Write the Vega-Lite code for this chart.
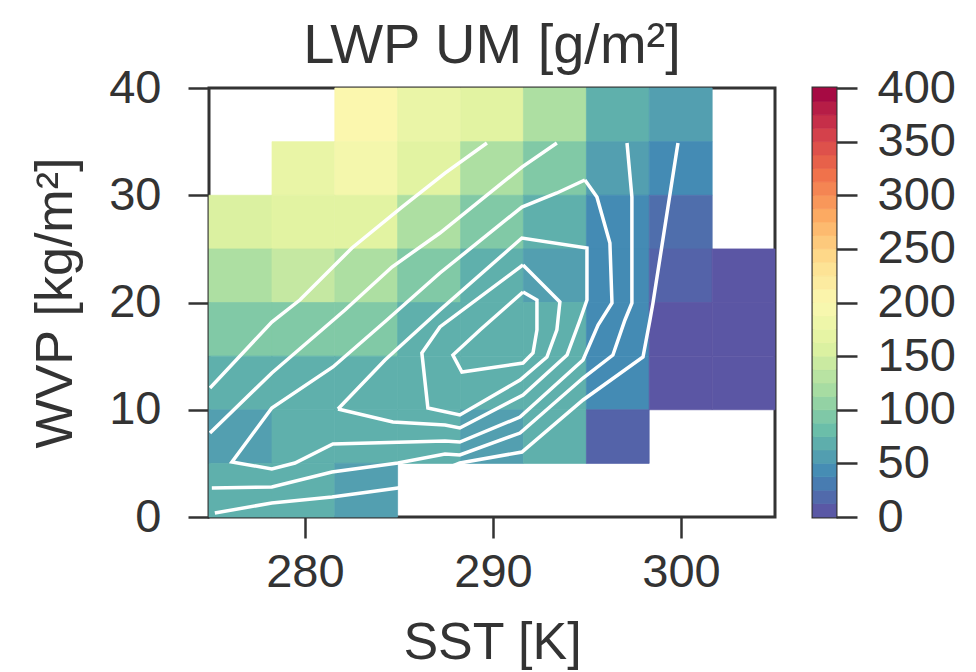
{
  "$schema": "https://vega.github.io/schema/vega-lite/v6.json",
  "background": "white",
  "padding": {"left": 28, "top": 16, "right": 5, "bottom": 5},
  "config": {
    "font": "Liberation Sans",
    "view": {"stroke": "#333333", "strokeWidth": 3},
    "axis": {
      "labelFont": "Liberation Sans", "labelFontSize": 47, "labelColor": "#333333",
      "titleFont": "Liberation Sans", "titleFontSize": 52, "titleColor": "#333333", "titleFontWeight": "normal",
      "tickColor": "#333333", "tickWidth": 2.5, "tickSize": 21, "domain": false, "grid": false
    },
    "title": {"font": "Liberation Sans", "fontSize": 56, "fontWeight": "normal", "color": "#333333"},
    "concat": {"spacing": 34}
  },
  "datasets": {
    "cells": [
      {"x0": 281.59, "x1": 284.93, "y0": 35, "y1": 40, "v": 202},
      {"x0": 284.93, "x1": 288.28, "y0": 35, "y1": 40, "v": 175},
      {"x0": 288.28, "x1": 291.62, "y0": 35, "y1": 40, "v": 163},
      {"x0": 291.62, "x1": 294.97, "y0": 35, "y1": 40, "v": 123},
      {"x0": 294.97, "x1": 298.31, "y0": 35, "y1": 40, "v": 70},
      {"x0": 298.31, "x1": 301.66, "y0": 35, "y1": 40, "v": 57},
      {"x0": 278.25, "x1": 281.59, "y0": 30, "y1": 35, "v": 173},
      {"x0": 281.59, "x1": 284.93, "y0": 30, "y1": 35, "v": 190},
      {"x0": 284.93, "x1": 288.28, "y0": 30, "y1": 35, "v": 163},
      {"x0": 288.28, "x1": 291.62, "y0": 30, "y1": 35, "v": 123},
      {"x0": 291.62, "x1": 294.97, "y0": 30, "y1": 35, "v": 95},
      {"x0": 294.97, "x1": 298.31, "y0": 30, "y1": 35, "v": 57},
      {"x0": 298.31, "x1": 301.66, "y0": 30, "y1": 35, "v": 42},
      {"x0": 274.9, "x1": 278.25, "y0": 25, "y1": 30, "v": 156},
      {"x0": 278.25, "x1": 281.59, "y0": 25, "y1": 30, "v": 163},
      {"x0": 281.59, "x1": 284.93, "y0": 25, "y1": 30, "v": 163},
      {"x0": 284.93, "x1": 288.28, "y0": 25, "y1": 30, "v": 123},
      {"x0": 288.28, "x1": 291.62, "y0": 25, "y1": 30, "v": 95},
      {"x0": 291.62, "x1": 294.97, "y0": 25, "y1": 30, "v": 70},
      {"x0": 294.97, "x1": 298.31, "y0": 25, "y1": 30, "v": 42},
      {"x0": 298.31, "x1": 301.66, "y0": 25, "y1": 30, "v": 22},
      {"x0": 274.9, "x1": 278.25, "y0": 20, "y1": 25, "v": 123},
      {"x0": 278.25, "x1": 281.59, "y0": 20, "y1": 25, "v": 140},
      {"x0": 281.59, "x1": 284.93, "y0": 20, "y1": 25, "v": 123},
      {"x0": 284.93, "x1": 288.28, "y0": 20, "y1": 25, "v": 95},
      {"x0": 288.28, "x1": 291.62, "y0": 20, "y1": 25, "v": 70},
      {"x0": 291.62, "x1": 294.97, "y0": 20, "y1": 25, "v": 57},
      {"x0": 294.97, "x1": 298.31, "y0": 20, "y1": 25, "v": 42},
      {"x0": 298.31, "x1": 301.66, "y0": 20, "y1": 25, "v": 14},
      {"x0": 301.66, "x1": 305.0, "y0": 20, "y1": 25, "v": 5},
      {"x0": 274.9, "x1": 278.25, "y0": 15, "y1": 20, "v": 95},
      {"x0": 278.25, "x1": 281.59, "y0": 15, "y1": 20, "v": 95},
      {"x0": 281.59, "x1": 284.93, "y0": 15, "y1": 20, "v": 95},
      {"x0": 284.93, "x1": 288.28, "y0": 15, "y1": 20, "v": 70},
      {"x0": 288.28, "x1": 291.62, "y0": 15, "y1": 20, "v": 70},
      {"x0": 291.62, "x1": 294.97, "y0": 15, "y1": 20, "v": 70},
      {"x0": 294.97, "x1": 298.31, "y0": 15, "y1": 20, "v": 42},
      {"x0": 298.31, "x1": 301.66, "y0": 15, "y1": 20, "v": 5},
      {"x0": 301.66, "x1": 305.0, "y0": 15, "y1": 20, "v": 5},
      {"x0": 274.9, "x1": 278.25, "y0": 10, "y1": 15, "v": 70},
      {"x0": 278.25, "x1": 281.59, "y0": 10, "y1": 15, "v": 70},
      {"x0": 281.59, "x1": 284.93, "y0": 10, "y1": 15, "v": 70},
      {"x0": 284.93, "x1": 288.28, "y0": 10, "y1": 15, "v": 70},
      {"x0": 288.28, "x1": 291.62, "y0": 10, "y1": 15, "v": 70},
      {"x0": 291.62, "x1": 294.97, "y0": 10, "y1": 15, "v": 70},
      {"x0": 294.97, "x1": 298.31, "y0": 10, "y1": 15, "v": 42},
      {"x0": 298.31, "x1": 301.66, "y0": 10, "y1": 15, "v": 5},
      {"x0": 301.66, "x1": 305.0, "y0": 10, "y1": 15, "v": 5},
      {"x0": 274.9, "x1": 278.25, "y0": 5, "y1": 10, "v": 57},
      {"x0": 278.25, "x1": 281.59, "y0": 5, "y1": 10, "v": 70},
      {"x0": 281.59, "x1": 284.93, "y0": 5, "y1": 10, "v": 70},
      {"x0": 284.93, "x1": 288.28, "y0": 5, "y1": 10, "v": 70},
      {"x0": 288.28, "x1": 291.62, "y0": 5, "y1": 10, "v": 57},
      {"x0": 291.62, "x1": 294.97, "y0": 5, "y1": 10, "v": 70},
      {"x0": 294.97, "x1": 298.31, "y0": 5, "y1": 10, "v": 14},
      {"x0": 274.9, "x1": 278.25, "y0": 0, "y1": 5, "v": 70},
      {"x0": 278.25, "x1": 281.59, "y0": 0, "y1": 5, "v": 70},
      {"x0": 281.59, "x1": 284.93, "y0": 0, "y1": 5, "v": 57}
    ],
    "contours": [
      {"id": "A", "o": 0, "x": 289.68, "y": 34.87},
      {"id": "A", "o": 1, "x": 287.45, "y": 32.07},
      {"id": "A", "o": 2, "x": 285.16, "y": 28.90},
      {"id": "A", "o": 3, "x": 282.50, "y": 25.08},
      {"id": "A", "o": 4, "x": 279.73, "y": 20.23},
      {"id": "A", "o": 5, "x": 278.24, "y": 18.18},
      {"id": "A", "o": 6, "x": 274.95, "y": 12.03},
      {"id": "B", "o": 0, "x": 293.40, "y": 34.87},
      {"id": "B", "o": 1, "x": 291.54, "y": 32.63},
      {"id": "B", "o": 2, "x": 287.18, "y": 26.48},
      {"id": "B", "o": 3, "x": 284.63, "y": 23.31},
      {"id": "B", "o": 4, "x": 282.13, "y": 19.30},
      {"id": "B", "o": 5, "x": 278.24, "y": 13.43},
      {"id": "B", "o": 6, "x": 274.95, "y": 7.83},
      {"id": "C", "o": 0, "x": 294.89, "y": 31.42},
      {"id": "C", "o": 1, "x": 295.53, "y": 29.84},
      {"id": "C", "o": 2, "x": 296.22, "y": 25.55},
      {"id": "C", "o": 3, "x": 296.33, "y": 19.95},
      {"id": "C", "o": 4, "x": 295.59, "y": 17.90},
      {"id": "C", "o": 5, "x": 294.79, "y": 14.64},
      {"id": "C", "o": 6, "x": 291.44, "y": 9.32},
      {"id": "C", "o": 7, "x": 288.24, "y": 6.99},
      {"id": "C", "o": 8, "x": 287.45, "y": 7.09},
      {"id": "C", "o": 9, "x": 281.49, "y": 6.81},
      {"id": "C", "o": 10, "x": 279.47, "y": 5.03},
      {"id": "C", "o": 11, "x": 278.24, "y": 4.48},
      {"id": "C", "o": 12, "x": 276.12, "y": 5.13},
      {"id": "C", "o": 13, "x": 278.24, "y": 10.16},
      {"id": "C", "o": 14, "x": 281.49, "y": 13.99},
      {"id": "C", "o": 15, "x": 284.36, "y": 18.37},
      {"id": "C", "o": 16, "x": 287.18, "y": 22.75},
      {"id": "C", "o": 17, "x": 291.54, "y": 28.90},
      {"id": "C", "o": 18, "x": 293.40, "y": 30.21},
      {"id": "C", "o": 19, "x": 294.89, "y": 31.42},
      {"id": "D", "o": 0, "x": 281.76, "y": 10.07},
      {"id": "D", "o": 1, "x": 284.26, "y": 14.64},
      {"id": "D", "o": 2, "x": 287.18, "y": 19.30},
      {"id": "D", "o": 3, "x": 291.54, "y": 26.01},
      {"id": "D", "o": 4, "x": 295.00, "y": 25.08},
      {"id": "D", "o": 5, "x": 295.00, "y": 20.23},
      {"id": "D", "o": 6, "x": 294.63, "y": 18.37},
      {"id": "D", "o": 7, "x": 293.94, "y": 15.10},
      {"id": "D", "o": 8, "x": 291.60, "y": 11.38},
      {"id": "D", "o": 9, "x": 288.24, "y": 8.30},
      {"id": "D", "o": 10, "x": 287.45, "y": 8.58},
      {"id": "D", "o": 11, "x": 284.68, "y": 8.86},
      {"id": "D", "o": 12, "x": 281.76, "y": 10.07},
      {"id": "E", "o": 0, "x": 291.60, "y": 23.50},
      {"id": "E", "o": 1, "x": 293.56, "y": 20.05},
      {"id": "E", "o": 2, "x": 293.40, "y": 17.44},
      {"id": "E", "o": 3, "x": 292.87, "y": 14.92},
      {"id": "E", "o": 4, "x": 291.44, "y": 12.77},
      {"id": "E", "o": 5, "x": 288.24, "y": 9.51},
      {"id": "E", "o": 6, "x": 286.54, "y": 10.16},
      {"id": "E", "o": 7, "x": 286.22, "y": 15.29},
      {"id": "E", "o": 8, "x": 287.18, "y": 17.72},
      {"id": "E", "o": 9, "x": 291.60, "y": 23.50},
      {"id": "F", "o": 0, "x": 291.60, "y": 20.98},
      {"id": "F", "o": 1, "x": 292.34, "y": 20.23},
      {"id": "F", "o": 2, "x": 292.34, "y": 17.44},
      {"id": "F", "o": 3, "x": 292.13, "y": 15.29},
      {"id": "F", "o": 4, "x": 291.60, "y": 14.36},
      {"id": "F", "o": 5, "x": 288.35, "y": 13.52},
      {"id": "F", "o": 6, "x": 287.87, "y": 15.10},
      {"id": "F", "o": 7, "x": 289.31, "y": 17.44},
      {"id": "F", "o": 8, "x": 291.60, "y": 20.98},
      {"id": "G", "o": 0, "x": 297.13, "y": 34.87},
      {"id": "G", "o": 1, "x": 297.39, "y": 29.84},
      {"id": "G", "o": 2, "x": 297.39, "y": 19.95},
      {"id": "G", "o": 3, "x": 297.02, "y": 18.37},
      {"id": "G", "o": 4, "x": 296.38, "y": 15.10},
      {"id": "G", "o": 5, "x": 294.79, "y": 12.96},
      {"id": "G", "o": 6, "x": 291.44, "y": 7.83},
      {"id": "G", "o": 7, "x": 288.24, "y": 5.78},
      {"id": "G", "o": 8, "x": 287.45, "y": 5.87},
      {"id": "G", "o": 9, "x": 284.95, "y": 5.03},
      {"id": "G", "o": 10, "x": 281.44, "y": 4.20},
      {"id": "G", "o": 11, "x": 278.24, "y": 2.80},
      {"id": "G", "o": 12, "x": 275.05, "y": 2.70},
      {"id": "H", "o": 0, "x": 299.84, "y": 34.87},
      {"id": "H", "o": 1, "x": 298.51, "y": 19.95},
      {"id": "H", "o": 2, "x": 298.35, "y": 18.37},
      {"id": "H", "o": 3, "x": 297.98, "y": 14.92},
      {"id": "H", "o": 4, "x": 294.79, "y": 10.91},
      {"id": "H", "o": 5, "x": 291.54, "y": 6.06},
      {"id": "H", "o": 6, "x": 288.24, "y": 5.03},
      {"id": "H", "o": 7, "x": 284.95, "y": 2.70},
      {"id": "H", "o": 8, "x": 281.44, "y": 1.86},
      {"id": "H", "o": 9, "x": 278.24, "y": 1.31},
      {"id": "H", "o": 10, "x": 275.21, "y": 0.37}
    ],
    "bands": [
      {"lo": 0, "hi": 12.5, "mid": 6.25},
      {"lo": 12.5, "hi": 25, "mid": 18.75},
      {"lo": 25, "hi": 37.5, "mid": 31.25},
      {"lo": 37.5, "hi": 50, "mid": 43.75},
      {"lo": 50, "hi": 62.5, "mid": 56.25},
      {"lo": 62.5, "hi": 75, "mid": 68.75},
      {"lo": 75, "hi": 87.5, "mid": 81.25},
      {"lo": 87.5, "hi": 100, "mid": 93.75},
      {"lo": 100, "hi": 112.5, "mid": 106.25},
      {"lo": 112.5, "hi": 125, "mid": 118.75},
      {"lo": 125, "hi": 137.5, "mid": 131.25},
      {"lo": 137.5, "hi": 150, "mid": 143.75},
      {"lo": 150, "hi": 162.5, "mid": 156.25},
      {"lo": 162.5, "hi": 175, "mid": 168.75},
      {"lo": 175, "hi": 187.5, "mid": 181.25},
      {"lo": 187.5, "hi": 200, "mid": 193.75},
      {"lo": 200, "hi": 212.5, "mid": 206.25},
      {"lo": 212.5, "hi": 225, "mid": 218.75},
      {"lo": 225, "hi": 237.5, "mid": 231.25},
      {"lo": 237.5, "hi": 250, "mid": 243.75},
      {"lo": 250, "hi": 262.5, "mid": 256.25},
      {"lo": 262.5, "hi": 275, "mid": 268.75},
      {"lo": 275, "hi": 287.5, "mid": 281.25},
      {"lo": 287.5, "hi": 300, "mid": 293.75},
      {"lo": 300, "hi": 312.5, "mid": 306.25},
      {"lo": 312.5, "hi": 325, "mid": 318.75},
      {"lo": 325, "hi": 337.5, "mid": 331.25},
      {"lo": 337.5, "hi": 350, "mid": 343.75},
      {"lo": 350, "hi": 362.5, "mid": 356.25},
      {"lo": 362.5, "hi": 375, "mid": 368.75},
      {"lo": 375, "hi": 387.5, "mid": 381.25},
      {"lo": 387.5, "hi": 400, "mid": 393.75}
    ]
  },
  "hconcat": [
    {
      "width": 566,
      "height": 429,
      "title": {"text": "LWP UM [g/m²]", "anchor": "middle", "offset": -11},
      "layer": [
        {
          "data": {"name": "cells"},
          "mark": {"type": "rect", "strokeWidth": 0.7},
          "encoding": {
            "x": {"field": "x0", "type": "quantitative",
                  "scale": {"domain": [274.9, 305.0], "nice": false, "zero": false},
                  "axis": {"values": [280, 290, 300], "title": "SST [K]", "labelPadding": 11, "titlePadding": 22}},
            "x2": {"field": "x1"},
            "y": {"field": "y0", "type": "quantitative",
                  "scale": {"domain": [0, 40], "nice": false, "zero": false},
                  "axis": {"values": [0, 10, 20, 30, 40], "title": "WVP [kg/m²]", "labelPadding": 27, "titlePadding": 26}},
            "y2": {"field": "y1"},
            "color": {"field": "v", "type": "quantitative",
                      "scale": {"domain": [0, 400], "scheme": "spectral", "reverse": true},
                      "legend": null},
            "stroke": {"field": "v", "type": "quantitative",
                       "scale": {"domain": [0, 400], "scheme": "spectral", "reverse": true},
                       "legend": null}
          }
        },
        {
          "data": {"name": "contours"},
          "mark": {"type": "line", "stroke": "white", "strokeWidth": 3.5, "clip": true},
          "encoding": {
            "x": {"field": "x", "type": "quantitative"},
            "y": {"field": "y", "type": "quantitative"},
            "detail": {"field": "id"},
            "order": {"field": "o", "type": "quantitative"}
          }
        }
      ]
    },
    {
      "width": 23,
      "height": 429,
      "data": {"name": "bands"},
      "mark": {"type": "rect", "strokeWidth": 0.7},
      "encoding": {
        "y": {"field": "lo", "type": "quantitative",
              "scale": {"domain": [0, 400], "nice": false, "zero": false},
              "axis": {"orient": "right", "values": [0, 50, 100, 150, 200, 250, 300, 350, 400], "title": null, "labelPadding": 20}},
        "y2": {"field": "hi"},
        "color": {"field": "mid", "type": "quantitative",
                  "scale": {"domain": [0, 400], "scheme": "spectral", "reverse": true},
                  "legend": null},
        "stroke": {"field": "mid", "type": "quantitative",
                   "scale": {"domain": [0, 400], "scheme": "spectral", "reverse": true},
                   "legend": null}
      }
    }
  ]
}
